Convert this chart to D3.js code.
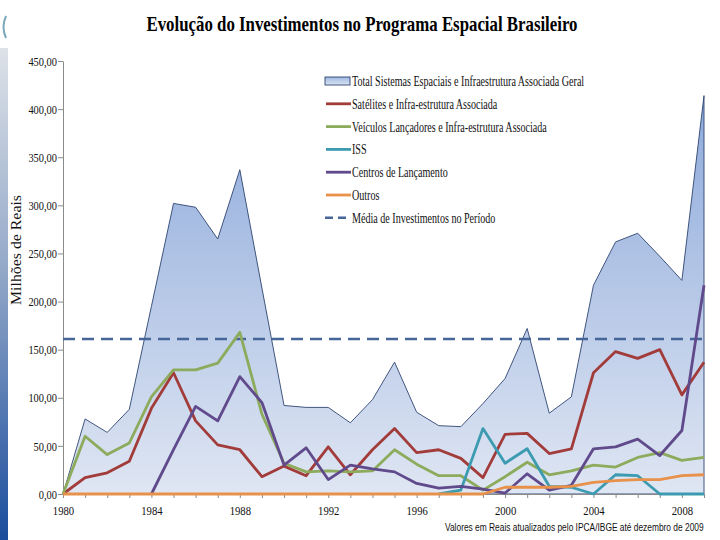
<!DOCTYPE html>
<html><head><meta charset="utf-8">
<script src="https://cdn.jsdelivr.net/npm/d3@7"></script>
<style>body{margin:0;background:#fff} svg{display:block}</style>
</head><body>
<svg id="c" width="720" height="540"></svg>
<script>
// ---------- DATA ----------
const years = [1980,1981,1982,1983,1984,1985,1986,1987,1988,1989,1990,1991,1992,1993,1994,1995,1996,1997,1998,1999,2000,2001,2002,2003,2004,2005,2006,2007,2008,2009];
const total     = [0,78,64,88,195,302,298,265,337,214,92,90,90,74,98,137,85,71,70,94,120,172,84,101,217,262,271,247,222,414];
const satelites = [0,17,22,34,89,126,76,51,46,18,29,19,49,20,46,68,43,46,37,17,62,63,42,47,126,148,141,150,103,137];
const veiculos  = [0,60,41,53,101,129,129,136,168,83,32,23,24,23,24,46,31,19,19,4,18,33,20,24,30,28,38,43,35,38];
const iss       = [null,null,null,null,null,null,null,null,null,null,null,null,null,null,null,null,null,0,4,68,32,47,8,7,0,20,19,0,0,0];
const centros   = [null,null,null,null,0,46,91,76,122,95,30,48,15,30,26,23,11,6,8,5,1,21,4,9,47,49,57,40,66,217];
const outros    = [0,0,0,0,0,0,0,0,0,0,0,0,0,0,0,0,0,0,0,0,7,7,7,8,12,14,15,15,19,20];
const mediaPeriodo = 161;
const yTickValues = [0,50,100,150,200,250,300,350,400,450];
const xTickLabels = [1980,1984,1988,1992,1996,2000,2004,2008];
const legendNames = [
  "Total  Sistemas Espaciais e Infraestrutura Associada Geral",
  "Satélites e Infra-estrutura Associada",
  "Veículos Lançadores e Infra-estrutura Associada",
  "ISS",
  "Centros de Lançamento",
  "Outros",
  "Média de Investimentos no Período"
];
const titleText = "Evolução do Investimentos no Programa Espacial Brasileiro";
const yTitleText = "Milhões de Reais";
const footText = "Valores em Reais atualizados pelo IPCA/IBGE até dezembro de 2009";

// ---------- CHART ----------
const svg = d3.select("#c");
const defs = svg.append("defs");
const x = d3.scaleLinear().domain([1980, 2009]).range([63, 704]);
const y = d3.scaleLinear().domain([0, 450]).range([494, 61]);
const ptBR = d3.formatLocale({decimal: ",", thousands: ".", grouping: [3], currency: ["R$", ""]});
const fmt = ptBR.format(".2f");
const serif = "'Liberation Serif','Times New Roman',serif";

function condense(sel, k) {
  sel.each(function () {
    const w = this.getComputedTextLength();
    d3.select(this).attr("textLength", w * k).attr("lengthAdjust", "spacingAndGlyphs");
  });
}

// gradients
const ag = defs.append("linearGradient").attr("id", "areaGrad")
  .attr("gradientUnits", "userSpaceOnUse").attr("x1", 0).attr("x2", 0).attr("y1", y(414)).attr("y2", y(0));
ag.append("stop").attr("offset", 0).attr("stop-color", "#8eaadb");
ag.append("stop").attr("offset", 1).attr("stop-color", "#dfe6f3");
const lg = defs.append("linearGradient").attr("id", "legGrad").attr("x1", 0).attr("x2", 0).attr("y1", 0).attr("y2", 1);
lg.append("stop").attr("offset", 0).attr("stop-color", "#9fb8e2");
lg.append("stop").attr("offset", 1).attr("stop-color", "#dbe4f3");
const sg = defs.append("linearGradient").attr("id", "sideGrad").attr("x1", 0).attr("x2", 0).attr("y1", 0).attr("y2", 1);
sg.append("stop").attr("offset", 0).attr("stop-color", "#dde2e8");
sg.append("stop").attr("offset", 0.45).attr("stop-color", "#93a8c8");
sg.append("stop").attr("offset", 1).attr("stop-color", "#1b4d9d");

// slide decoration on the left
svg.append("rect").attr("x", 0).attr("y", 48).attr("width", 8).attr("height", 492).attr("fill", "url(#sideGrad)");
svg.append("path").attr("d", "M6,16 Q1,27 6,38").attr("fill", "none").attr("stroke", "#7aa9bb").attr("stroke-width", 2);

// title
svg.append("text").attr("x", 362).attr("y", 31).attr("text-anchor", "middle")
  .attr("font-family", serif).attr("font-weight", "bold").attr("font-size", 22).attr("fill", "#000")
  .text(titleText).attr("textLength", 431).attr("lengthAdjust", "spacingAndGlyphs");

// area (total)
const areaGen = d3.area().x((d, i) => x(years[i])).y0(y(0)).y1(d => y(d));
svg.append("path").datum(total).attr("d", areaGen)
  .attr("fill", "url(#areaGrad)").attr("stroke", "#2e4470").attr("stroke-width", 0.9);

// axes
const yAxis = d3.axisLeft(y).tickValues(yTickValues).tickFormat(d => fmt(d)).tickSize(5).tickSizeOuter(0);
const gy = svg.append("g").attr("transform", `translate(${x(1980)},0)`).call(yAxis);
gy.select(".domain").attr("stroke", "#8a8a8a");
gy.selectAll(".tick line").attr("stroke", "#8a8a8a");
gy.selectAll(".tick text").attr("font-family", serif).attr("font-size", 13).attr("fill", "#111").attr("x", -6)
  .call(condense, 0.8);

const xAxis = d3.axisBottom(x).tickValues(years).tickFormat(d => xTickLabels.includes(d) ? String(d) : "").tickSize(4).tickSizeOuter(0);
const gx = svg.append("g").attr("transform", `translate(0,${y(0)})`).call(xAxis);
gx.select(".domain").attr("stroke", "#8a8a8a");
gx.selectAll(".tick line").attr("stroke", "#8a8a8a");
gx.selectAll(".tick text").attr("font-family", serif).attr("font-size", 13).attr("fill", "#111").attr("dy", "1.05em")
  .filter(function () { return this.textContent !== ""; }).call(condense, 0.82);

// y title
svg.append("text").attr("transform", "translate(21,250) rotate(-90)").attr("text-anchor", "middle")
  .attr("font-family", serif).attr("font-size", 14).attr("fill", "#111").text(yTitleText)
  .attr("textLength", 110).attr("lengthAdjust", "spacingAndGlyphs");

// mean dashed line
svg.append("line").attr("x1", x(1980)).attr("x2", x(2009)).attr("y1", y(mediaPeriodo)).attr("y2", y(mediaPeriodo))
  .attr("stroke", "#46669a").attr("stroke-width", 2.5).attr("stroke-dasharray", "12,7");

// series lines
const seriesList = [
  {vals: satelites, color: "#a23c3b"},
  {vals: veiculos,  color: "#8dab5c"},
  {vals: iss,       color: "#3c9bb0"},
  {vals: centros,   color: "#604a8c"},
  {vals: outros,    color: "#e8914a"}
];
const lineGen = d3.line().defined(d => d != null).x((d, i) => x(years[i])).y(d => y(d));
seriesList.forEach(s => {
  svg.append("path").datum(s.vals).attr("d", lineGen).attr("fill", "none")
    .attr("stroke", s.color).attr("stroke-width", 2.8).attr("stroke-linejoin", "round");
});

// legend
const legY0 = 81, legDY = 22.8;
const leg = svg.append("g");
legendNames.forEach((name, i) => {
  const yy = legY0 + i * legDY;
  if (i === 0) {
    leg.append("rect").attr("x", 325).attr("y", yy - 4).attr("width", 25).attr("height", 8)
      .attr("fill", "url(#legGrad)").attr("stroke", "#2e4470").attr("stroke-width", 0.9);
  } else if (i === 6) {
    leg.append("line").attr("x1", 325).attr("x2", 351).attr("y1", yy).attr("y2", yy)
      .attr("stroke", "#46669a").attr("stroke-width", 2.5).attr("stroke-dasharray", "8,5");
  } else {
    leg.append("line").attr("x1", 326).attr("x2", 351).attr("y1", yy).attr("y2", yy)
      .attr("stroke", seriesList[i - 1].color).attr("stroke-width", 2.8);
  }
  leg.append("text").attr("x", 352).attr("y", yy).attr("dy", "0.35em")
    .attr("font-family", serif).attr("font-size", 14).attr("fill", "#111").text(name).call(condense, 0.72);
});

// footnote (horizontally scaled group so its box really fits)
const footG = svg.append("g");
const foot = footG.append("text").attr("x", 0).attr("y", 0)
  .attr("font-family", "'Liberation Sans',Arial,sans-serif").attr("font-size", 11).attr("fill", "#111")
  .text(footText);
const footW = foot.node().getComputedTextLength();
footG.attr("transform", `translate(445,531) scale(${259 / footW},1)`);
</script>
</body></html>
